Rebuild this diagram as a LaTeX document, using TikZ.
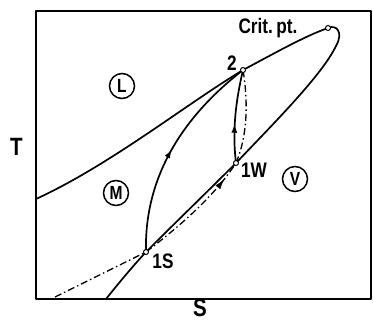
\documentclass[tikz,border=0pt]{standalone}
\usepackage{fontspec}
\setmainfont{Liberation Sans}[FakeStretch=0.82]
\usetikzlibrary{decorations.markings,arrows.meta}
\begin{document}
\begin{tikzpicture}[x=1pt,y=-1pt,
  curve/.style={line width=1.7pt, line cap=round, line join=round},
  dashdot/.style={line width=1.3pt, dash pattern=on 7pt off 3pt on 1.5pt off 3pt},
  lbl/.style={font=\fontsize{21}{24}\selectfont\bfseries, inner sep=0},
  axislbl/.style={font=\fontsize{25}{30}\selectfont\bfseries, inner sep=0},
  region/.style={circle, draw, line width=1.5pt, minimum size=25pt, inner sep=0, font=\fontsize{19}{22}\selectfont\bfseries},
  pt/.style={circle, draw, line width=1pt, fill=white, minimum size=5pt, inner sep=0},
  arrowat/.style={postaction={decorate,decoration={markings,mark=at position #1 with {\arrow{Latex[length=9pt,width=6pt]}}}}}
]
\useasboundingbox (0,0) rectangle (373,322);
% frame
\draw[curve] (36,11) rectangle (371,299);
% key points
\coordinate (lstart) at (36,199);
\coordinate (p2) at (243,70);
\coordinate (crit) at (328,28);
\coordinate (loop) at (336,46);
\coordinate (p1w) at (236,163);
\coordinate (p1s) at (146,252);
\coordinate (vend) at (106,299);
\coordinate (dstart) at (55,297);
% liquid line and dome
\draw[curve] (lstart) .. controls (110,165) and (185,105) .. (p2)
  .. controls (275,53) and (305,36) .. (crit)
  .. controls (336,24) and (344,32) .. (loop);
% vapour line
\draw[curve] (loop) .. controls (322,75) and (275,122) .. (p1w)
  .. controls (206,193) and (176,222) .. (p1s)
  .. controls (132,267) and (118,284) .. (vend);
% process 1S -> 2
\draw[curve, arrowat=0.5] (p1s) .. controls (144,175) and (185,115) .. (p2);
% process 1W -> 2 solid
\draw[curve, arrowat=0.42] (p1w) .. controls (232,130) and (236,100) .. (p2);
% dash-dot 1W -> 2
\draw[dashdot] (p1w) .. controls (248,135) and (248,100) .. (p2);
% dash-dot lower
\draw[dashdot] (dstart) -- (p1s);
\draw[dashdot] (p1s) .. controls (172,232) and (212,200) .. (p1w);
\path[postaction={decorate,decoration={markings,mark=at position 0.84 with {\arrow{Latex[length=10pt,width=6pt]}}}}] (p1s) .. controls (172,232) and (212,200) .. (p1w);
% small circles
\node[pt] (ncrit) at (crit) {};
\node[pt] (n2) at (p2) {};
\node[pt] (n1w) at (p1w) {};
\node[pt] (n1s) at (p1s) {};
% labels
\node[lbl, anchor=base] (tcrit) at (268,33) {Crit.\,pt.};
\node[lbl, anchor=base] (t2) at (232,70) {2};
\node[lbl, anchor=base] (t1w) at (254,177) {1W};
\node[lbl, anchor=base] (t1s) at (163,268) {1S};
\node[axislbl, anchor=base] (tT) at (16.5,155) {T};
\node[axislbl, anchor=base] (tS) at (200,316.5) {S};
% region markers
\node[region] (rL) at (122,86) {L};
\node[region] (rM) at (116,193) {M};
\node[region] (rV) at (295,179) {V};
\end{tikzpicture}
\end{document}
